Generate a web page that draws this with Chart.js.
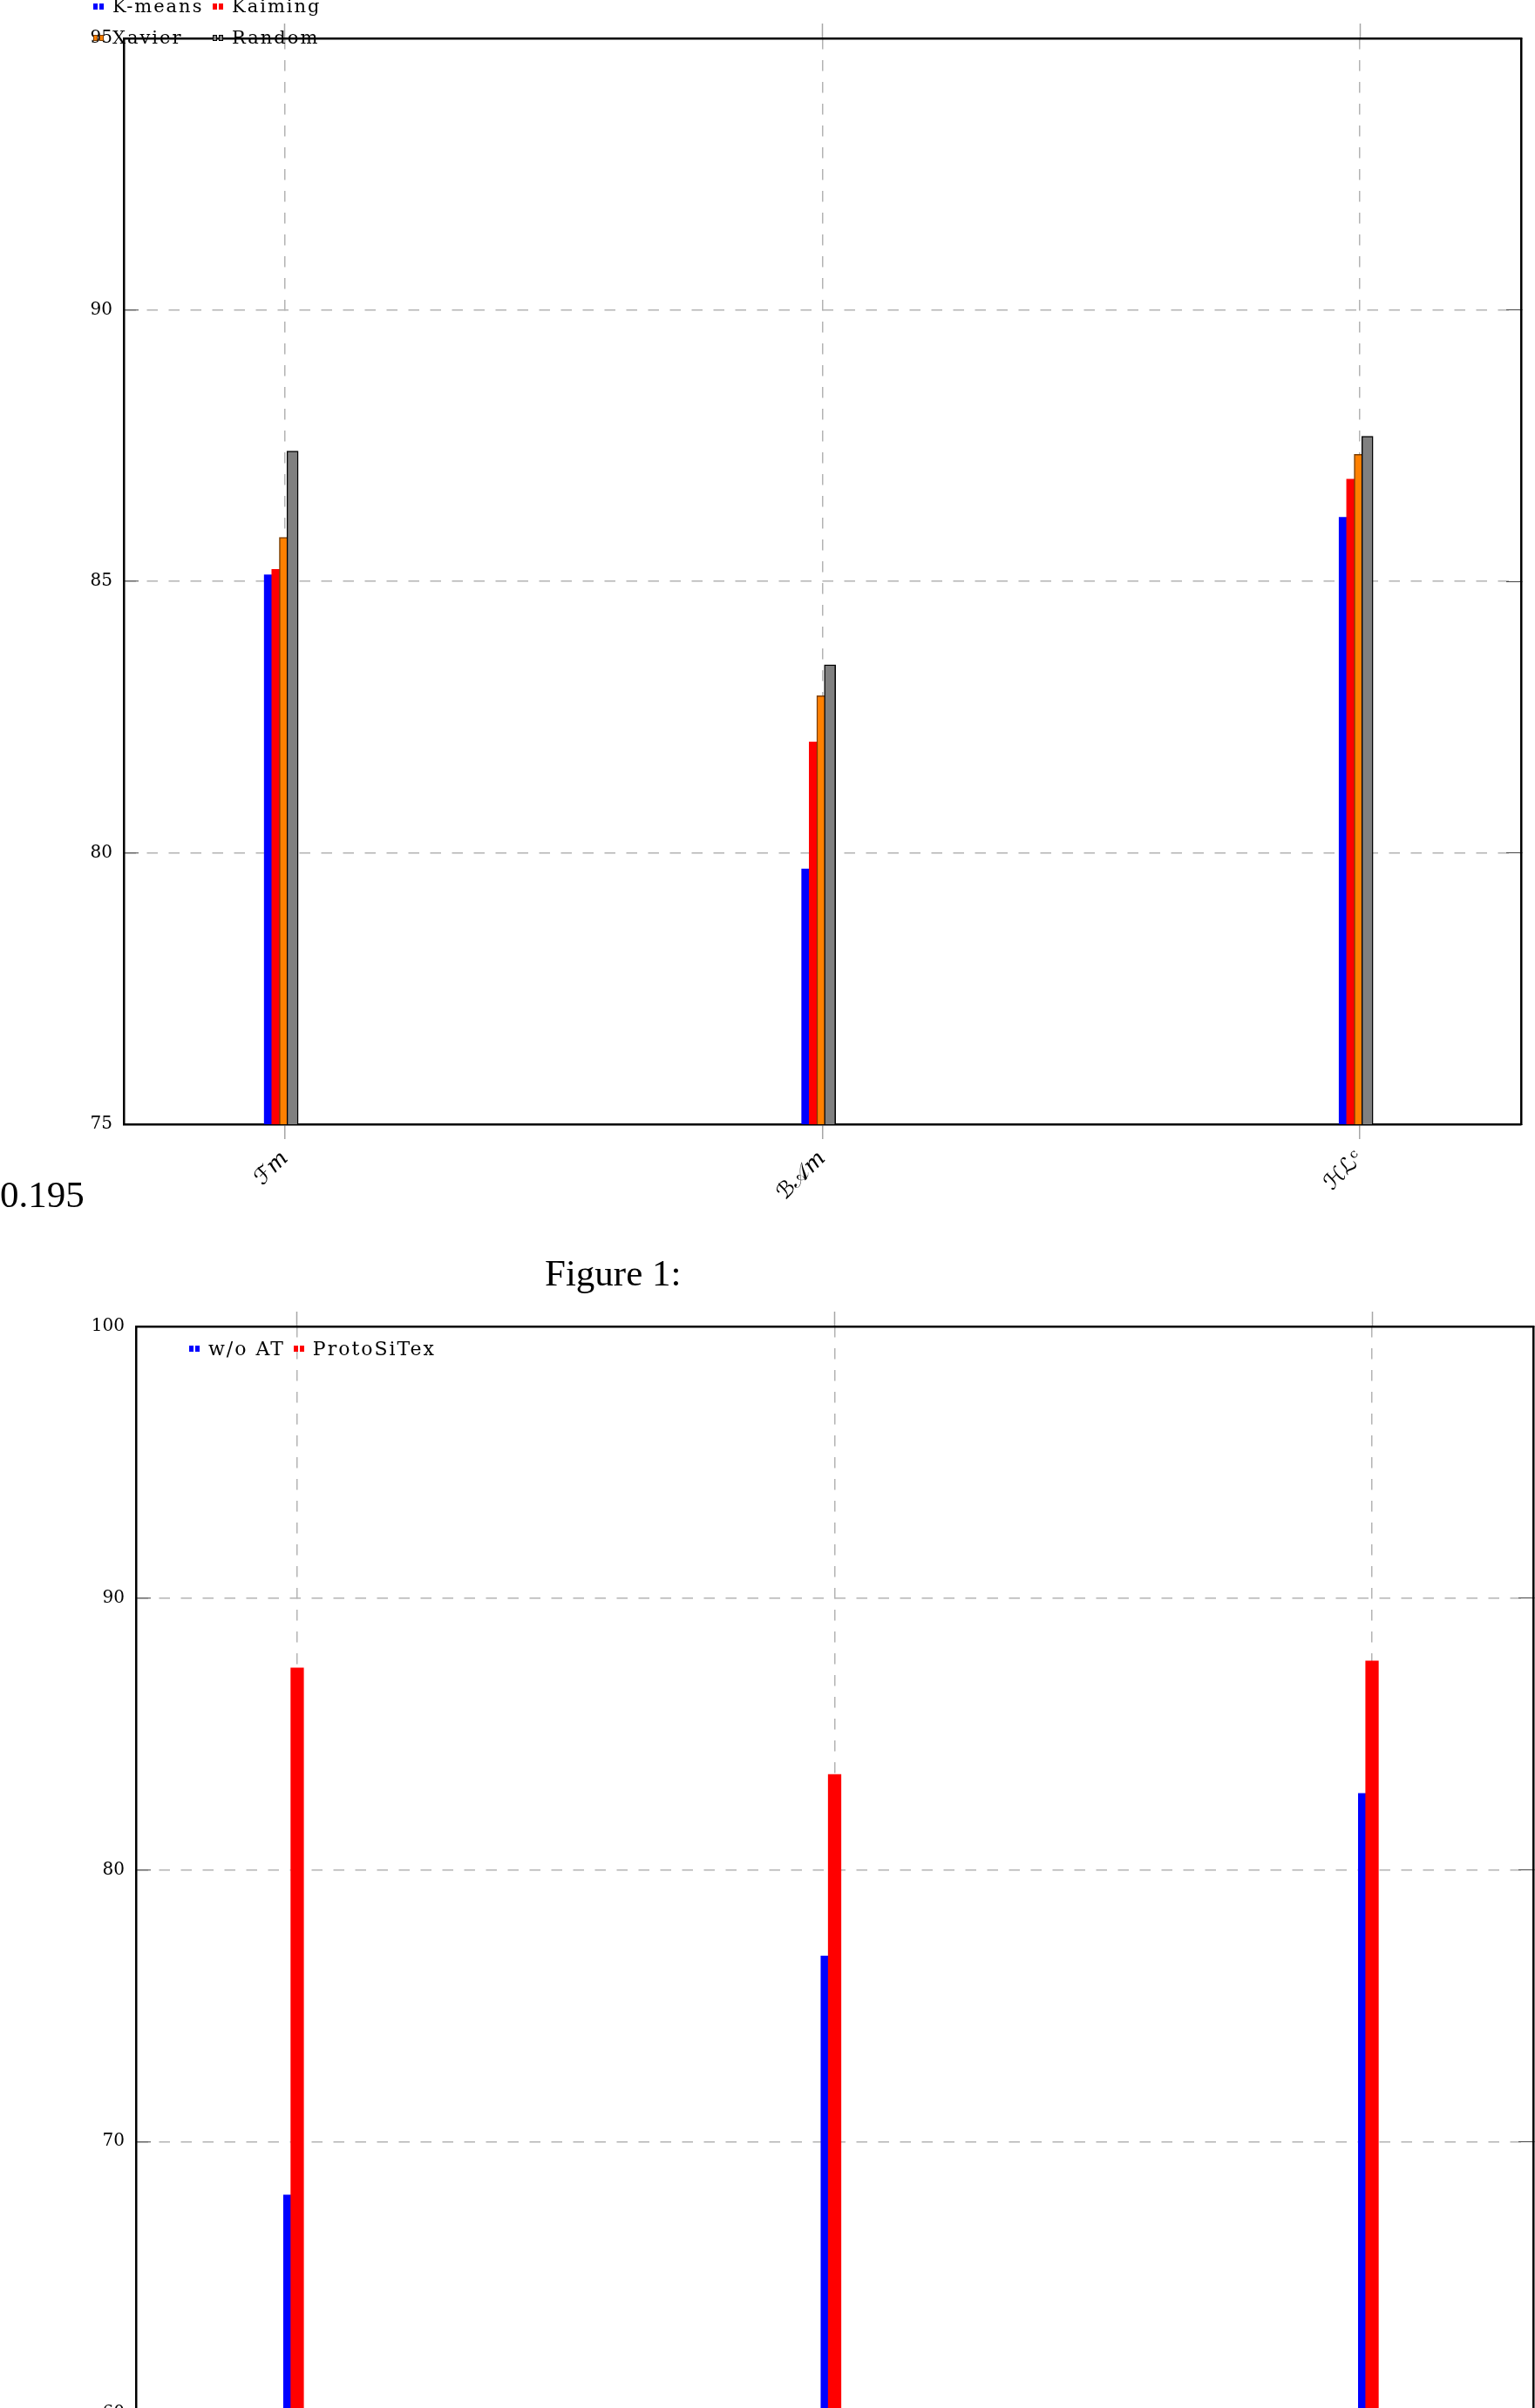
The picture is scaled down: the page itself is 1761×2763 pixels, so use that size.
<!DOCTYPE html>
<html>
<head>
<meta charset="utf-8">
<script src="https://cdn.jsdelivr.net/npm/chart.js@4.4.0/dist/chart.umd.min.js"></script>
<style>
  html, body { margin: 0; padding: 0; background: #fff; }
  body { width: 1761px; height: 2763px; overflow: hidden; position: relative; font-family: 'DejaVu Serif', serif; }
  canvas { position: absolute; left: 0; }
  #chart1 { top: 0; }
  #chart2 { top: 1480px; }
  .note { position: absolute; font-family: 'Liberation Serif', serif; font-size: 43px; line-height: 43px; white-space: nowrap; color: #000; }
  .legend { position: absolute; font-size: 21px; line-height: 21px; letter-spacing: 2px; white-space: nowrap; color: #000; }
  .legend .item { display: flex; align-items: center; height: 21px; }
  .legend .mk { display: inline-flex; gap: 2px; margin-right: 10px; }
  .legend .mk span { display: block; width: 5px; height: 7px; box-sizing: border-box; }
</style>
</head>
<body>
<canvas id="chart1" width="1761" height="1400"></canvas>
<canvas id="chart2" width="1761" height="1400"></canvas>
<div class="note" style="left:0; top:1349px;">0.195</div>
<div class="note" style="left:625px; top:1439px;">Figure 1:</div>
<div class="legend" id="legend1" style="left:107px; top:-3px; display:grid; grid-template-columns:137px 137px; grid-auto-rows:36px;"></div>
<div class="legend" id="legend2" style="left:217px; top:1537px; display:flex; column-gap:10px; font-size:22px;"></div>
<script>
// data
const categories = ['ℱ𝑚', 'ℬ𝒜𝑚', 'ℋℒᶜ'];

const yTicks1 = [75, 80, 85, 90, 95];
const kmeans  = [85.12, 79.70, 86.18];
const kaiming = [85.22, 82.04, 86.88];
const xavier  = [85.81, 82.89, 87.34];
const random  = [87.40, 83.46, 87.67];

const yTicks2 = [60, 70, 80, 90, 100];
const woAT       = [68.03, 76.83, 82.81];
const protoSiTex = [87.43, 83.51, 87.69];

Chart.defaults.font.family = "'DejaVu Serif', 'DejaVu Sans', serif";
Chart.defaults.color = '#000';

const gridColor = '#b3b3b3';
const tickFont = { size: 20 };

// pgfplots style "bar shift" in pixels, drawn in dataset order
const barShift = {
    id: 'barShift',
    beforeDatasetDraw(chart, args) {
        const shift = chart.data.datasets[args.index].shift || 0;
        chart.ctx.save();
        chart.ctx.translate(shift, 0);
    },
    afterDatasetDraw(chart) {
        chart.ctx.restore();
    }
};

function points(values) {
    return categories.map((c, i) => ({ x: i, y: values[i] }));
}

function makeScales(yTicks, yWidth) {
    const yMin = yTicks[0], yMax = yTicks[yTicks.length - 1];
    const setX = (s) => { s.ticks = categories.map((c, i) => ({ value: i })); };
    const setY = (s) => { s.ticks = yTicks.map(v => ({ value: v })); };
    return {
        x: {
            type: 'linear', position: 'bottom', min: -0.3, max: 2.3, offset: false,
            afterBuildTicks: setX,
            afterFit: (s) => { s.height = 100; },
            ticks: { autoSkip: false, maxRotation: 45, minRotation: 45, padding: 8, font: { size: 25 },
                     callback: (v) => categories[v] },
            grid: { offset: false, color: gridColor, lineWidth: 1.5, drawTicks: true, tickLength: 17,
                    tickColor: '#a6a6a6', tickWidth: 1.5 },
            border: { display: true, color: '#000', width: 2.5, dash: [12.5, 12.5] }
        },
        x2: {
            type: 'linear', position: 'top', min: -0.3, max: 2.3, offset: false,
            afterBuildTicks: setX,
            afterFit: (s) => { s.height = 17; },
            ticks: { callback: () => '' },
            grid: { offset: false, drawOnChartArea: false, drawTicks: true, tickLength: 17,
                    tickColor: '#a6a6a6', tickWidth: 1.5 },
            border: { display: true, color: '#000', width: 2.5 }
        },
        y: {
            type: 'linear', position: 'left', min: yMin, max: yMax,
            afterBuildTicks: setY,
            afterFit: (s) => { s.width = yWidth; },
            ticks: { padding: 30, font: tickFont },
            grid: { color: gridColor, lineWidth: 1.5, drawTicks: true, tickLength: -17,
                    tickColor: '#444', tickWidth: 1 },
            border: { display: true, color: '#000', width: 2.5, dash: [12.5, 12.5] }
        },
        y2: {
            type: 'linear', position: 'right', min: yMin, max: yMax,
            afterBuildTicks: setY,
            afterFit: (s) => { s.width = 0; },
            ticks: { display: false },
            grid: { drawOnChartArea: false, drawTicks: true, tickLength: -17, tickColor: '#444', tickWidth: 1 },
            border: { display: true, color: '#000', width: 2.5 }
        }
    };
}

function bar(label, values, fill, border, borderWidth, order, shift, thickness) {
    return {
        label, data: points(values), backgroundColor: fill, borderColor: border,
        borderWidth, borderSkipped: false, order, shift,
        barThickness: thickness, grouped: false
    };
}

const sets1 = [
    bar('K-means', kmeans,  '#0000ff', '#0000ff', 0,   4, -17.3, 13),
    bar('Kaiming', kaiming, '#ff0000', '#ff0000', 0,   3, -8.65, 13),
    bar('Xavier',  xavier,  '#ff8000', '#7a3d00', 1.5, 2, 0,     13),
    bar('Random',  random,  '#808080', '#000000', 1.5, 1, 8.65,  13)
];

const sets2 = [
    bar('w/o AT',     woAT,       '#0000ff', '#0000ff', 0, 2, -8.4, 14.6),
    bar('ProtoSiTex', protoSiTex, '#ff0000', '#ff0000', 0, 1, 0,    14.6)
];

new Chart(document.getElementById('chart1'), {
    type: 'bar',
    data: { datasets: sets1 },
    options: {
        responsive: false, animation: false,
        layout: { padding: { left: 0, top: 27, right: 16, bottom: 10 } },
        plugins: { legend: { display: false }, tooltip: { enabled: false } },
        scales: makeScales(yTicks1, 142)
    },
    plugins: [barShift]
});

new Chart(document.getElementById('chart2'), {
    type: 'bar',
    data: { datasets: sets2 },
    options: {
        responsive: false, animation: false,
        layout: { padding: { left: 0, top: 25, right: 2, bottom: 11 } },
        plugins: { legend: { display: false }, tooltip: { enabled: false } },
        scales: makeScales(yTicks2, 156)
    },
    plugins: [barShift]
});

// legends in pgfplots style
function buildLegend(el, sets) {
    sets.forEach((ds) => {
        const item = document.createElement('div');
        item.className = 'item';
        const mk = document.createElement('span');
        mk.className = 'mk';
        for (let k = 0; k < 2; k++) {
            const b = document.createElement('span');
            b.style.background = ds.backgroundColor;
            if (ds.borderWidth) b.style.border = '1px solid ' + ds.borderColor;
            mk.appendChild(b);
        }
        item.appendChild(mk);
        item.appendChild(document.createTextNode(ds.label));
        el.appendChild(item);
    });
}
buildLegend(document.getElementById('legend1'), sets1);
buildLegend(document.getElementById('legend2'), sets2);
</script>
</body>
</html>
